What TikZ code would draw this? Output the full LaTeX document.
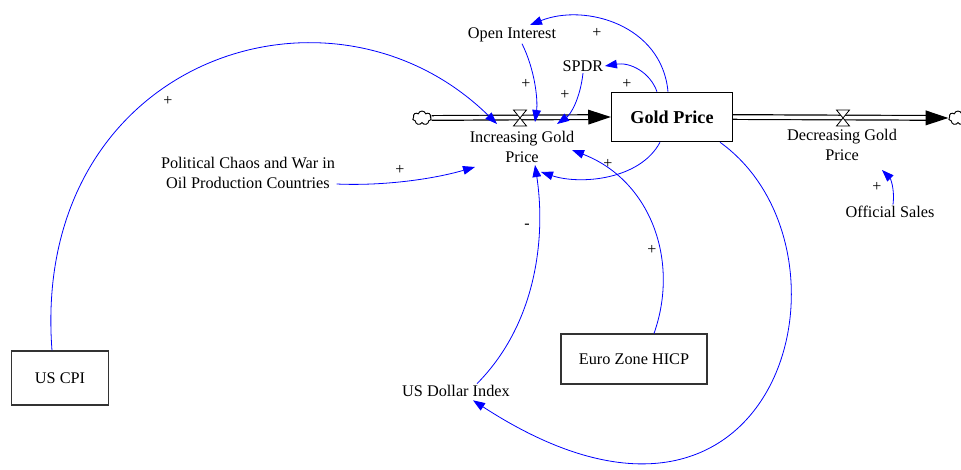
\documentclass[tikz,border=0pt]{standalone}
\usepackage{fontspec}
\setmainfont{Liberation Serif}
\usetikzlibrary{arrows.meta, shapes.symbols, calc}

\tikzset{valve/.pic={
    \draw[fill=white, line width=0.6pt] (-6.5,-8) -- (6.5,-8) -- (-6.5,8) -- (6.5,8) -- cycle;
}}

\begin{document}
\begin{tikzpicture}[x=0.75pt, y=-0.75pt,
    every node/.style={font=\fontsize{12.2}{14.5}\selectfont},
    var/.style={align=center, inner sep=1pt},
    level/.style={draw, line width=0.9pt, minimum width=90.75pt, minimum height=37pt, font=\fontsize{13.6}{16}\selectfont\bfseries},
    exo/.style={draw=black!80, line width=0.8pt},
    link/.style={blue, line width=0.6pt, -{Triangle[length=9pt,width=6.5pt]}},
    pipe/.style={double, double distance=2.6pt, line width=0.9pt, -{Triangle[length=17pt,width=11pt]}},
    sign/.style={font=\fontsize{12}{12}\selectfont, inner sep=0pt},
    sky/.style={cloud, draw, cloud puffs=7, cloud ignores aspect, minimum width=14pt, minimum height=10.5pt, inner sep=0pt, fill=white, line width=0.7pt}]
    \useasboundingbox (0,0) rectangle (961,470);

    % stock and flows
    \node[level] at (672,117) (gold) {Gold Price};
    \node[sky] at (422,118) (src) {};
    \node[sky] at (958,118) (sink) {};
    \draw[pipe] (src.east) -- (gold.west);
    \draw[pipe] (gold.east) -- (sink.west);
    \pic at (520,118) {valve};
    \pic at (843,118) {valve};
    \node[var] at (522,147) (incr) {Increasing Gold\\Price};
    \node[var] at (842,145) (decr) {Decreasing Gold\\Price};

    % auxiliaries
    \node[var] at (512,35) (oi) {Open Interest};
    \node[var] at (583,66) (spdr) {SPDR};
    \node[var] at (248,173) (war) {Political Chaos and War in\\Oil Production Countries};
    \node[var] at (890,212) (sales) {Official Sales};
    \node[var] at (456,391) (usd) {US Dollar Index};
    \node[draw, exo, minimum width=72.75pt, minimum height=40.5pt] at (60,378) (cpi) {US CPI};
    \node[draw, exo, minimum width=109.5pt, minimum height=37.5pt] at (634,359) (hicp) {Euro Zone HICP};

    % causal links
    \draw[link] ($(cpi.north)+(-8,0)$) .. controls (30,60) and (330,-40) .. ($(incr)+(-25,-23)$);
    \draw[link] (war.east |- 0,184) .. controls (380,186) and (430,180) .. ($(incr)+(-47,20)$);
    \draw[link] ($(oi.south)+(10,0)$) .. controls (535,70) and (538,100) .. ($(incr)+(13,-25)$);
    \draw[link] (spdr.south) .. controls (580,100) and (570,115) .. ($(incr)+(35,-23)$);
    \draw[link] ($(gold.north)+(-4,0)$) .. controls (662,25) and (585,3) .. ($(oi)+(18,-10)$);
    \draw[link] ($(gold.north)+(-15,0)$) .. controls (650,72) and (630,62) .. (spdr.east);
    \draw[link] ($(gold.south)+(-12,0)$) .. controls (640,180) and (580,185) .. ($(incr)+(19,25)$);
    \draw[link] ($(hicp.north)+(20,0)$) .. controls (680,260) and (650,180) .. ($(incr)+(50,3)$);
    \draw[link] ($(usd.north)+(21,0)$) .. controls (540,320) and (545,230) .. ($(incr)+(13,18)$);
    \draw[link] ($(gold.south)+(48,0)$) .. controls (870,250) and (780,600) .. ($(usd.south)+(17,2)$);
    \draw[link] ($(sales.north)+(3,0)$) .. controls (895,188) and (890,178) .. ($(decr)+(40,25)$);

    % polarities
    \node[sign] at (168,101) (sCpi) {+};
    \node[sign] at (400,170) (sWar) {+};
    \node[sign] at (526,84) (sOi) {+};
    \node[sign] at (565,95) (sSpdr) {+};
    \node[sign] at (597,33) (sGoldOi) {+};
    \node[sign] at (627,84) (sGoldSpdr) {+};
    \node[sign] at (608,164) (sGold) {+};
    \node[sign] at (652,250) (sHicp) {+};
    \node[sign] at (527,226) (sUsd) {-};
    \node[sign] at (877,187) (sSales) {+};
\end{tikzpicture}
\end{document}
